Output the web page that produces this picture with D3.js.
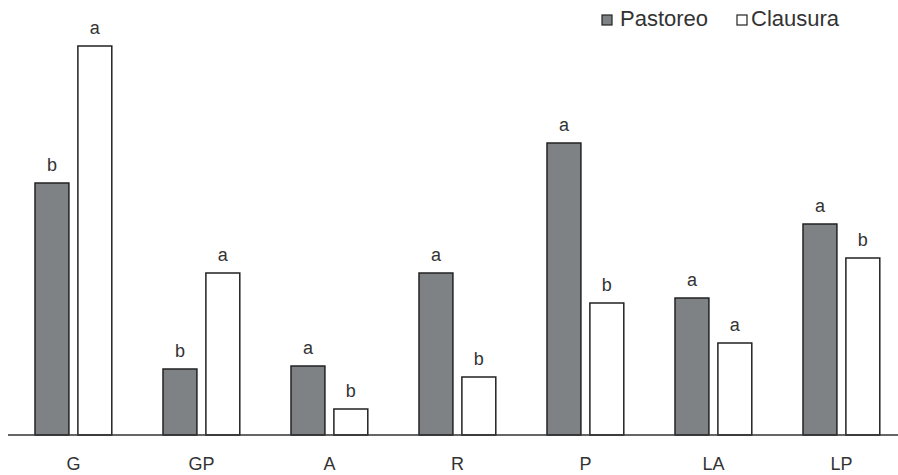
<!DOCTYPE html>
<html>
<head>
<meta charset="utf-8">
<script src="https://cdn.jsdelivr.net/npm/d3@7"></script>
<style>
  body { margin: 0; background: #fff; }
  svg { display: block; font-family: 'Liberation Sans', Arial, sans-serif; }
</style>
</head>
<body>
<script>
// Chart data (bar heights, arbitrary units)
const categories = ['G', 'GP', 'A', 'R', 'P', 'LA', 'LP']
const seriesNames = ['Pastoreo', 'Clausura']
const pastoreo = [252, 66, 69, 162, 292, 137, 211]
const clausura = [389, 162, 26, 58, 132, 92, 177]
const pastoreoLetters = ['b', 'b', 'a', 'a', 'a', 'a', 'a']
const clausuraLetters = ['a', 'a', 'b', 'b', 'b', 'a', 'b']

const width = 898
const height = 475
const baseline = 435
const colours = { Pastoreo: '#7f8285', Clausura: '#ffffff' }
const textColour = '#333'

const svg = d3.select('body')
  .append('svg')
  .attr('width', width)
  .attr('height', height)

// Scales
const xScale = d3.scaleBand()
  .domain(categories)
  .range([9.4, 905.4])
  .paddingInner(0.4)
  .paddingOuter(0.2)

const xSub = d3.scaleBand()
  .domain(seriesNames)
  .range([0, xScale.bandwidth()])
  .paddingInner(9 / 43)

const yScale = d3.scaleLinear()
  .domain([0, 400])
  .range([baseline, 35])

// Build bar data
const bars = []
categories.forEach((c, i) => {
  bars.push({ cat: c, series: 'Pastoreo', value: pastoreo[i], letter: pastoreoLetters[i] })
  bars.push({ cat: c, series: 'Clausura', value: clausura[i], letter: clausuraLetters[i] })
})

const gChart = svg.append('g')

gChart.selectAll('.bar')
  .data(bars)
  .join('rect')
  .attr('class', 'bar')
  .attr('x', d => xScale(d.cat) + xSub(d.series))
  .attr('y', d => yScale(d.value))
  .attr('width', xSub.bandwidth())
  .attr('height', d => baseline - yScale(d.value))
  .style('fill', d => colours[d.series])
  .style('stroke', '#222')
  .style('stroke-width', 1.5)

// Significance letters
gChart.selectAll('.barLabel')
  .data(bars)
  .join('text')
  .attr('class', 'barLabel')
  .attr('x', d => xScale(d.cat) + xSub(d.series) + xSub.bandwidth() / 2)
  .attr('y', d => yScale(d.value) - 12)
  .attr('text-anchor', 'middle')
  .style('font-size', '18px')
  .style('fill', textColour)
  .text(d => d.letter)

// Bottom axis: line plus category labels, no ticks
const bAxis = svg.append('g')
  .attr('transform', `translate(0,${baseline})`)
  .call(d3.axisBottom(xScale).tickSize(0).tickPadding(22))

bAxis.select('.domain')
  .attr('d', `M8,0H${width}`)
  .style('stroke', '#333')
  .style('stroke-width', 1.5)

bAxis.selectAll('text')
  .style('font-size', '18px')
  .style('font-family', "'Liberation Sans', Arial, sans-serif")
  .style('fill', textColour)

// Legend
const legendX = [602, 737]
const legendTextX = [18, 14]
const legend = svg.append('g')
  .selectAll('g')
  .data(seriesNames)
  .join('g')
  .attr('transform', (d, i) => `translate(${legendX[i]},15)`)

legend.append('rect')
  .attr('width', 10)
  .attr('height', 10)
  .style('fill', d => colours[d])
  .style('stroke', '#222')
  .style('stroke-width', 1.2)

legend.append('text')
  .attr('x', (d, i) => legendTextX[i])
  .attr('y', 11)
  .style('font-size', '22px')
  .style('fill', textColour)
  .text(d => d)
</script>
</body>
</html>
